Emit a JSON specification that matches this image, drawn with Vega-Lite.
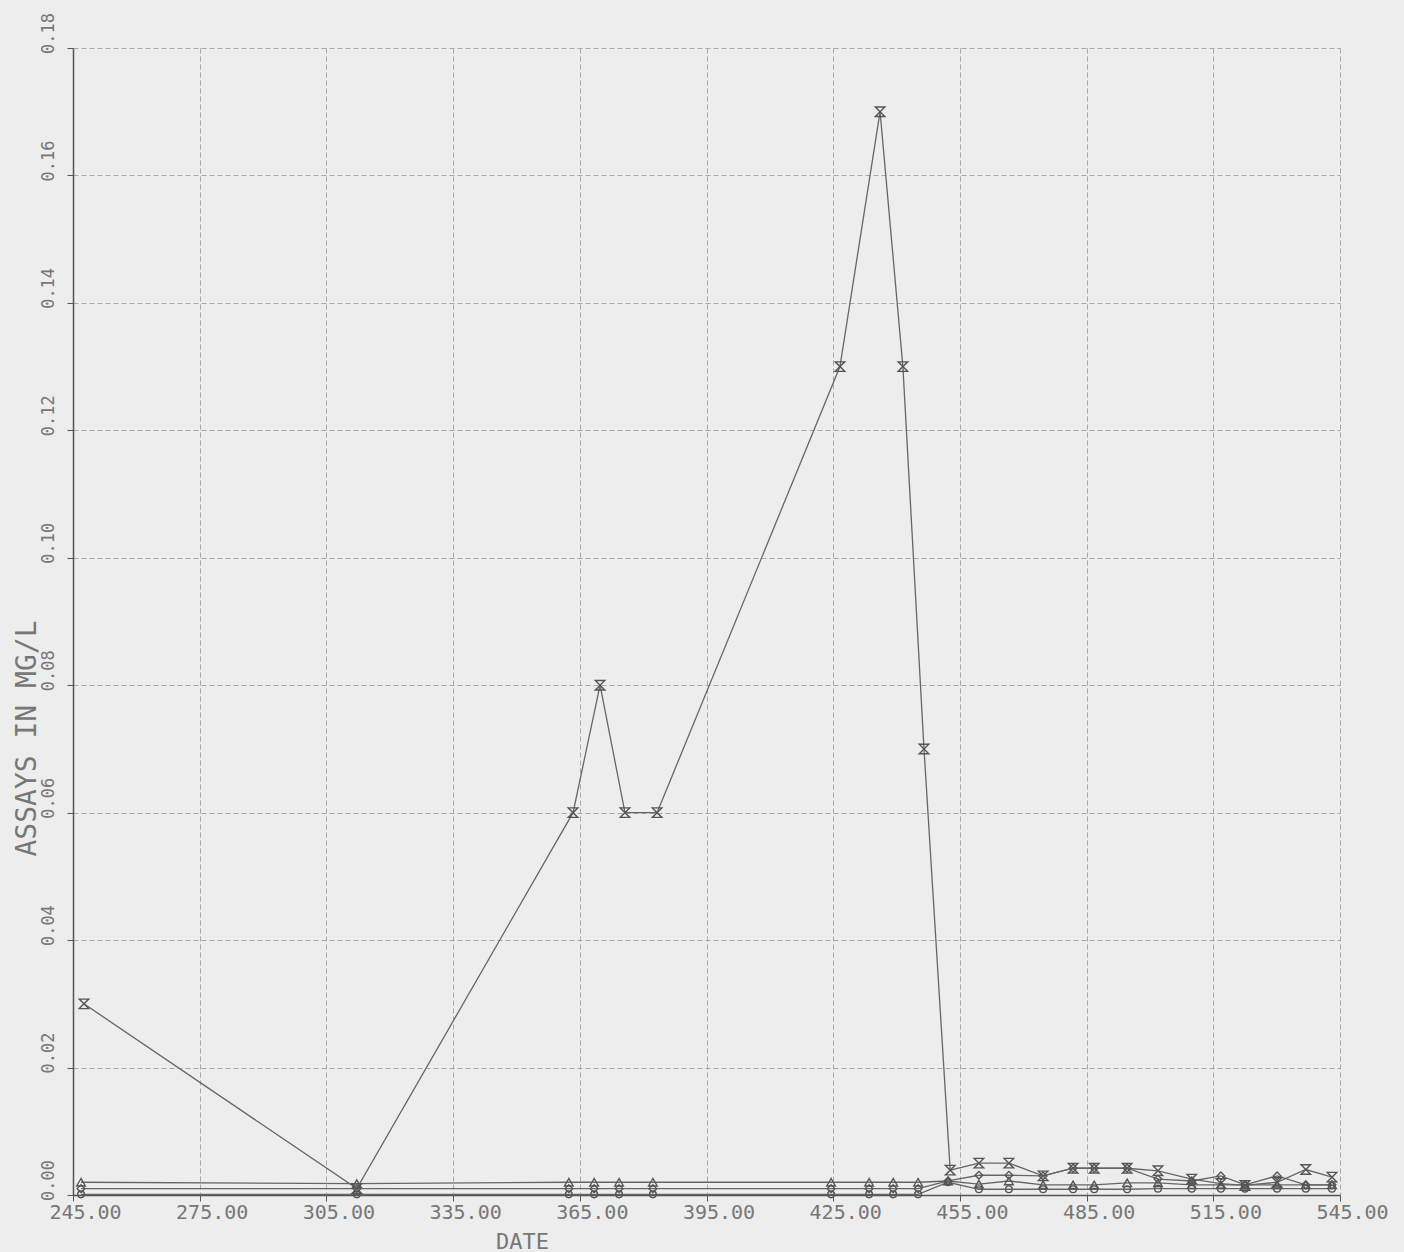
{
  "$schema": "https://vega.github.io/schema/vega-lite/v6.json",
  "width": 1267,
  "height": 1147,
  "autosize": {"type": "none"},
  "padding": {"left": 73, "top": 48, "right": 64, "bottom": 57},
  "background": "#ededed",
  "config": {"view": {"stroke": null}, "font": "DejaVu Sans Mono"},
  "data": {
    "values": [
      {"series": "X", "date": 247.6, "assay": 0.030},
      {"series": "X", "date": 312.2, "assay": 0.001},
      {"series": "X", "date": 363.4, "assay": 0.060},
      {"series": "X", "date": 369.8, "assay": 0.080},
      {"series": "X", "date": 375.7, "assay": 0.060},
      {"series": "X", "date": 383.3, "assay": 0.060},
      {"series": "X", "date": 426.6, "assay": 0.130},
      {"series": "X", "date": 436.1, "assay": 0.170},
      {"series": "X", "date": 441.5, "assay": 0.130},
      {"series": "X", "date": 446.5, "assay": 0.070},
      {"series": "X", "date": 452.7, "assay": 0.0039},
      {"series": "X", "date": 459.5, "assay": 0.0050},
      {"series": "X", "date": 466.6, "assay": 0.0050},
      {"series": "X", "date": 474.7, "assay": 0.0030},
      {"series": "X", "date": 481.8, "assay": 0.0042},
      {"series": "X", "date": 486.8, "assay": 0.0042},
      {"series": "X", "date": 494.6, "assay": 0.0042},
      {"series": "X", "date": 501.9, "assay": 0.0038},
      {"series": "X", "date": 509.9, "assay": 0.0025},
      {"series": "X", "date": 516.8, "assay": 0.0018},
      {"series": "X", "date": 522.5, "assay": 0.0015},
      {"series": "X", "date": 530.1, "assay": 0.0020},
      {"series": "X", "date": 536.9, "assay": 0.0040},
      {"series": "X", "date": 543.1, "assay": 0.0028},

      {"series": "T", "date": 246.9, "assay": 0.0020},
      {"series": "T", "date": 312.2, "assay": 0.0018},
      {"series": "T", "date": 362.4, "assay": 0.0020},
      {"series": "T", "date": 368.4, "assay": 0.0020},
      {"series": "T", "date": 374.3, "assay": 0.0020},
      {"series": "T", "date": 382.3, "assay": 0.0020},
      {"series": "T", "date": 424.5, "assay": 0.0020},
      {"series": "T", "date": 433.5, "assay": 0.0020},
      {"series": "T", "date": 439.2, "assay": 0.0020},
      {"series": "T", "date": 445.1, "assay": 0.0020},
      {"series": "T", "date": 452.2, "assay": 0.0022},
      {"series": "T", "date": 459.5, "assay": 0.0017},
      {"series": "T", "date": 466.6, "assay": 0.0022},
      {"series": "T", "date": 474.7, "assay": 0.0016},
      {"series": "T", "date": 481.8, "assay": 0.0016},
      {"series": "T", "date": 486.8, "assay": 0.0016},
      {"series": "T", "date": 494.6, "assay": 0.0019},
      {"series": "T", "date": 501.9, "assay": 0.0019},
      {"series": "T", "date": 509.9, "assay": 0.0016},
      {"series": "T", "date": 516.8, "assay": 0.0016},
      {"series": "T", "date": 522.5, "assay": 0.0016},
      {"series": "T", "date": 530.1, "assay": 0.0016},
      {"series": "T", "date": 536.9, "assay": 0.0016},
      {"series": "T", "date": 543.1, "assay": 0.0016},

      {"series": "D", "date": 246.9, "assay": 0.0010},
      {"series": "D", "date": 312.2, "assay": 0.0010},
      {"series": "D", "date": 362.4, "assay": 0.0010},
      {"series": "D", "date": 368.4, "assay": 0.0010},
      {"series": "D", "date": 374.3, "assay": 0.0010},
      {"series": "D", "date": 382.3, "assay": 0.0010},
      {"series": "D", "date": 424.5, "assay": 0.0010},
      {"series": "D", "date": 433.5, "assay": 0.0010},
      {"series": "D", "date": 439.2, "assay": 0.0010},
      {"series": "D", "date": 445.1, "assay": 0.0010},
      {"series": "D", "date": 452.2, "assay": 0.0022},
      {"series": "D", "date": 459.5, "assay": 0.0031},
      {"series": "D", "date": 466.6, "assay": 0.0031},
      {"series": "D", "date": 474.7, "assay": 0.0030},
      {"series": "D", "date": 481.8, "assay": 0.0042},
      {"series": "D", "date": 486.8, "assay": 0.0042},
      {"series": "D", "date": 494.6, "assay": 0.0042},
      {"series": "D", "date": 501.9, "assay": 0.0025},
      {"series": "D", "date": 509.9, "assay": 0.0022},
      {"series": "D", "date": 516.8, "assay": 0.0030},
      {"series": "D", "date": 522.5, "assay": 0.0016},
      {"series": "D", "date": 530.1, "assay": 0.0030},
      {"series": "D", "date": 536.9, "assay": 0.0016},
      {"series": "D", "date": 543.1, "assay": 0.0016},

      {"series": "C", "date": 246.9, "assay": 0.0001},
      {"series": "C", "date": 312.2, "assay": 0.0001},
      {"series": "C", "date": 362.4, "assay": 0.0001},
      {"series": "C", "date": 368.4, "assay": 0.0001},
      {"series": "C", "date": 374.3, "assay": 0.0001},
      {"series": "C", "date": 382.3, "assay": 0.0001},
      {"series": "C", "date": 424.5, "assay": 0.0001},
      {"series": "C", "date": 433.5, "assay": 0.0001},
      {"series": "C", "date": 439.2, "assay": 0.0001},
      {"series": "C", "date": 445.1, "assay": 0.0001},
      {"series": "C", "date": 452.2, "assay": 0.0020},
      {"series": "C", "date": 459.5, "assay": 0.0009},
      {"series": "C", "date": 466.6, "assay": 0.0009},
      {"series": "C", "date": 474.7, "assay": 0.0009},
      {"series": "C", "date": 481.8, "assay": 0.0009},
      {"series": "C", "date": 486.8, "assay": 0.0009},
      {"series": "C", "date": 494.6, "assay": 0.0009},
      {"series": "C", "date": 501.9, "assay": 0.0010},
      {"series": "C", "date": 509.9, "assay": 0.0010},
      {"series": "C", "date": 516.8, "assay": 0.0010},
      {"series": "C", "date": 522.5, "assay": 0.0010},
      {"series": "C", "date": 530.1, "assay": 0.0010},
      {"series": "C", "date": 536.9, "assay": 0.0010},
      {"series": "C", "date": 543.1, "assay": 0.0010}
    ]
  },
  "encoding": {
    "x": {
      "field": "date",
      "type": "quantitative",
      "scale": {"domain": [245, 545], "nice": false, "zero": false},
      "axis": {
        "values": [245, 275, 305, 335, 365, 395, 425, 455, 485, 515, 545],
        "format": ".2f",
        "labelFontSize": 20,
        "labelColor": "#777",
        "labelOffset": 12,
        "labelPadding": 1,
        "labelFlush": false,
        "labelOverlap": false,
        "labelBound": false,
        "tickSize": 6,
        "tickColor": "#555",
        "domainColor": "#555",
        "domainWidth": 1.5,
        "gridColor": "#a8a8a8",
        "gridDash": [5, 3],
        "title": "DATE",
        "titleFontSize": 22,
        "titleFontWeight": "normal",
        "titleColor": "#777",
        "titleX": 449,
        "titleY": 46,
        "titleAlign": "center",
        "titleBaseline": "middle"
      }
    },
    "y": {
      "field": "assay",
      "type": "quantitative",
      "scale": {"domain": [0, 0.18], "nice": false},
      "axis": {
        "values": [0, 0.02, 0.04, 0.06, 0.08, 0.1, 0.12, 0.14, 0.16, 0.18],
        "format": ".2f",
        "labelAngle": 270,
        "labelAlign": "center",
        "labelBaseline": "middle",
        "labelOffset": -15,
        "labelPadding": 19,
        "labelFontSize": 17,
        "labelColor": "#777",
        "labelFlush": false,
        "labelOverlap": false,
        "labelBound": false,
        "tickSize": 6,
        "tickColor": "#555",
        "domainColor": "#555",
        "domainWidth": 1.5,
        "gridColor": "#a8a8a8",
        "gridDash": [5, 3],
        "title": "ASSAYS IN MG/L",
        "titleFontSize": 28,
        "titleFontWeight": "normal",
        "titleColor": "#777",
        "titleAngle": 270,
        "titleX": -46,
        "titleY": 690,
        "titleAlign": "center",
        "titleBaseline": "middle"
      }
    }
  },
  "layer": [
    {
      "mark": {"type": "line", "color": "#666", "strokeWidth": 1.3},
      "encoding": {
        "detail": {"field": "series", "type": "nominal"},
        "order": {"field": "date", "type": "quantitative"}
      }
    },
    {
      "mark": {"type": "point", "filled": false, "color": "#555", "strokeWidth": 1.4, "opacity": 1},
      "encoding": {
        "shape": {
          "field": "series",
          "type": "nominal",
          "scale": {
            "domain": ["X", "T", "D", "C"],
            "range": ["M-1,-1L1,-1L-1,1L1,1Z", "triangle-up", "diamond", "circle"]
          },
          "legend": null
        },
        "size": {
          "field": "series",
          "type": "nominal",
          "scale": {"domain": ["X", "T", "D", "C"], "range": [90, 45, 45, 50]},
          "legend": null
        }
      }
    }
  ]
}
